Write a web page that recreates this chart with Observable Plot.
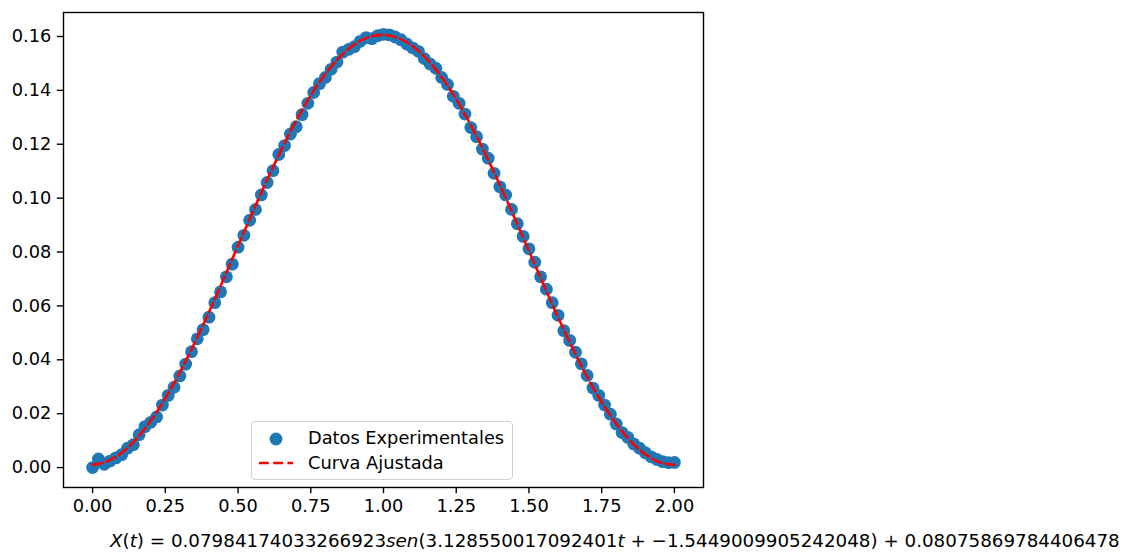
<!DOCTYPE html>
<html>
<head>
<meta charset="utf-8">
<script src="https://cdn.jsdelivr.net/npm/d3@7"></script>
<script src="https://cdn.jsdelivr.net/npm/@observablehq/plot@0.6"></script>
<style>
  html, body { margin: 0; padding: 0; background: #fff; }
  #wrap { position: relative; width: 1124px; height: 554px; overflow: hidden; font-family: "DejaVu Sans", sans-serif; }
  #chart { position: absolute; left: 0; top: 0; }
  #legend { position: absolute; left: 251px; top: 421px; width: 262px; height: 59px; border: 1px solid #d0d0d0; border-radius: 4px; background: rgba(255,255,255,0.8); box-sizing: border-box; }
  #legend svg { position: absolute; left: 0; top: 0; }
  #legend .lbl { position: absolute; left: 56px; font-size: 17.8px; color: #000; white-space: nowrap; line-height: 20px; }
  #caption { position: absolute; left: 110px; top: 530px; font-size: 18.3px; line-height: 22px; white-space: nowrap; color: #000; }
  #caption i { font-style: oblique; }
</style>
</head>
<body>
<div id="wrap">
  <div id="chart"></div>
  <div id="legend"></div>
  <div id="caption"></div>
</div>
<script>
const tData = [0.00,0.02,0.04,0.06,0.08,0.10,0.12,0.14,0.16,0.18,0.20,0.22,0.24,0.26,0.28,0.30,0.32,0.34,0.36,0.38,0.40,0.42,0.44,0.46,0.48,0.50,0.52,0.54,0.56,0.58,0.60,0.62,0.64,0.66,0.68,0.70,0.72,0.74,0.76,0.78,0.80,0.82,0.84,0.86,0.88,0.90,0.92,0.94,0.96,0.98,1.00,1.02,1.04,1.06,1.08,1.10,1.12,1.14,1.16,1.18,1.20,1.22,1.24,1.26,1.28,1.30,1.32,1.34,1.36,1.38,1.40,1.42,1.44,1.46,1.48,1.50,1.52,1.54,1.56,1.58,1.60,1.62,1.64,1.66,1.68,1.70,1.72,1.74,1.76,1.78,1.80,1.82,1.84,1.86,1.88,1.90,1.92,1.94,1.96,1.98,2.00];
const xData = [0.0000,0.0032,0.0012,0.0024,0.0036,0.0048,0.0072,0.0085,0.0122,0.0152,0.0168,0.0188,0.0232,0.0268,0.0298,0.0340,0.0384,0.0430,0.0478,0.0512,0.0558,0.0612,0.0652,0.0708,0.0755,0.0818,0.0862,0.0918,0.0958,0.1012,0.1058,0.1102,0.1162,0.1195,0.1238,0.1265,0.1310,0.1352,0.1392,0.1425,0.1448,0.1478,0.1505,0.1542,0.1552,0.1562,0.1582,0.1596,0.1592,0.1603,0.1608,0.1606,0.1598,0.1588,0.1572,0.1558,0.1545,0.1518,0.1498,0.1482,0.1448,0.1422,0.1378,0.1352,0.1312,0.1262,0.1228,0.1182,0.1148,0.1092,0.1042,0.1012,0.0958,0.0905,0.0858,0.0812,0.0762,0.0708,0.0662,0.0612,0.0565,0.0508,0.0472,0.0428,0.0385,0.0342,0.0295,0.0268,0.0232,0.0198,0.0162,0.0130,0.0112,0.0088,0.0072,0.0055,0.0040,0.0030,0.0022,0.0018,0.0019];

// Fitted curve
const tFit = [0.00,0.04,0.08,0.12,0.16,0.20,0.24,0.28,0.32,0.36,0.40,0.44,0.48,0.52,0.56,0.60,0.64,0.68,0.72,0.76,0.80,0.84,0.88,0.92,0.96,1.00,1.04,1.08,1.12,1.16,1.20,1.24,1.28,1.32,1.36,1.40,1.44,1.48,1.52,1.56,1.60,1.64,1.68,1.72,1.76,1.80,1.84,1.88,1.92,1.96,2.00];
const xFit = [0.0010,0.0019,0.0040,0.0073,0.0118,0.0174,0.0239,0.0313,0.0395,0.0484,0.0577,0.0674,0.0774,0.0873,0.0972,0.1068,0.1160,0.1247,0.1327,0.1399,0.1461,0.1513,0.1554,0.1584,0.1601,0.1606,0.1598,0.1579,0.1547,0.1503,0.1449,0.1385,0.1311,0.1230,0.1142,0.1049,0.0953,0.0854,0.0754,0.0655,0.0558,0.0466,0.0378,0.0298,0.0226,0.0163,0.0109,0.0066,0.0035,0.0016,0.0010];

const xTicks = [0, 0.25, 0.5, 0.75, 1.0, 1.25, 1.5, 1.75, 2.0];
const yTicks = [0, 0.02, 0.04, 0.06, 0.08, 0.10, 0.12, 0.14, 0.16];

const legendLabels = ["Datos Experimentales", "Curva Ajustada"];
const captionParts = ["X", "(", "t", ") = 0.07984174033266923", "sen", "(3.128550017092401", "t", " + \u22121.5449009905242048) + 0.08075869784406478"];

const blue = "#1f77b4";
const red = "#ff0000";

const points = tData.map((t, i) => ({t, x: xData[i]}));
const fit = tFit.map((t, i) => ({t, x: xFit[i]}));

const chart = Plot.plot({
  width: 720,
  height: 520,
  marginLeft: 63,
  marginRight: 17,
  marginTop: 12,
  marginBottom: 33,
  style: { fontFamily: "DejaVu Sans, sans-serif", fontSize: "17.8px", color: "#000", background: "#fff" },
  x: { domain: [-0.1, 2.1] },
  y: { domain: [-0.0074, 0.1689] },
  marks: [
    Plot.dot(points, { x: "t", y: "x", r: 6.4, fill: blue, stroke: "none", fillOpacity: 1 }),
    Plot.line(fit, { x: "t", y: "x", stroke: red, strokeWidth: 2.6, strokeDasharray: "9.9,4.3", curve: "catmull-rom" }),
    Plot.frame({ stroke: "#000", strokeWidth: 1.4 }),
    Plot.axisX({ ticks: xTicks, tickFormat: d3.format(".2f"), tickSize: 6.2, tickPadding: 6, strokeWidth: 1.4, label: null, fontSize: 17.8 }),
    Plot.axisY({ ticks: yTicks, tickFormat: d3.format(".2f"), tickSize: 6.2, tickPadding: 6, strokeWidth: 1.4, label: null, fontSize: 17.8 })
  ]
});
document.getElementById("chart").appendChild(chart);

// Legend
const leg = document.getElementById("legend");
leg.innerHTML = `
  <svg width="262" height="59">
    <circle cx="24" cy="17" r="6.4" fill="${blue}"></circle>
    <line x1="7" y1="41" x2="41" y2="41" stroke="${red}" stroke-width="2.6" stroke-dasharray="9.9,4.3"></line>
  </svg>
  <div class="lbl" style="top:6px">${legendLabels[0]}</div>
  <div class="lbl" style="top:31px">${legendLabels[1]}</div>`;

// Caption (math text)
const cap = document.getElementById("caption");
cap.innerHTML = `<i>${captionParts[0]}</i>${captionParts[1]}<i>${captionParts[2]}</i>${captionParts[3]}<i>${captionParts[4]}</i>${captionParts[5]}<i>${captionParts[6]}</i>${captionParts[7]}`;
</script>
</body>
</html>
